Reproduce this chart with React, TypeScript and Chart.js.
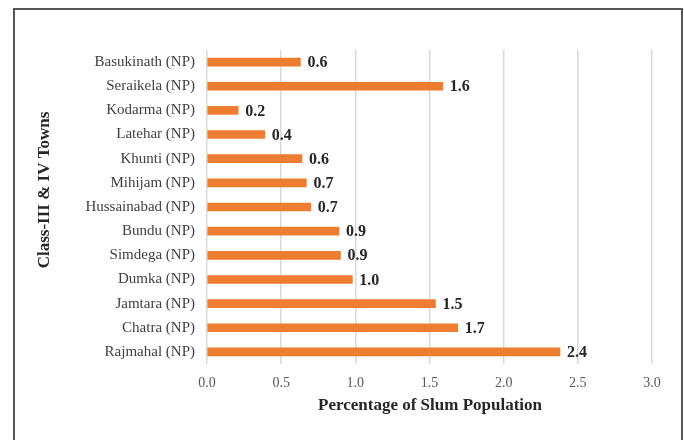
import React, { useEffect, useRef } from "react";
import { Chart, registerables } from "chart.js";

Chart.register(...registerables);

const categories = [
  "Basukinath (NP)",
  "Seraikela (NP)",
  "Kodarma (NP)",
  "Latehar (NP)",
  "Khunti (NP)",
  "Mihijam (NP)",
  "Hussainabad (NP)",
  "Bundu (NP)",
  "Simdega (NP)",
  "Dumka (NP)",
  "Jamtara (NP)",
  "Chatra (NP)",
  "Rajmahal (NP)",
];
const slumShare = [0.63, 1.59, 0.21, 0.39, 0.64, 0.67, 0.7, 0.89, 0.9, 0.98, 1.54, 1.69, 2.38];
const xTicks = [0, 0.5, 1, 1.5, 2, 2.5, 3];
const xTitle = "Percentage of Slum Population";
const yTitle = "Class-III & IV Towns";

const SERIF = "'Liberation Serif', 'Times New Roman', serif";

const labelPlugin = {
  id: "barLabels",
  afterDatasetsDraw(chart: any) {
    const ctx = chart.ctx;
    const meta = chart.getDatasetMeta(0);
    ctx.save();
    ctx.font = `bold 16px ${SERIF}`;
    ctx.fillStyle = "#262626";
    ctx.textAlign = "left";
    ctx.textBaseline = "middle";
    meta.data.forEach((bar: any, i: number) => {
      ctx.fillText(slumShare[i].toFixed(1), bar.x + 7, bar.y + 1);
    });
    ctx.restore();
  },
};

const titlePlugin = {
  id: "axisTitles",
  afterDraw(chart: any) {
    const ctx = chart.ctx;
    const area = chart.chartArea;
    ctx.save();
    ctx.fillStyle = "#262626";
    ctx.font = `bold 17px ${SERIF}`;
    ctx.textAlign = "center";
    ctx.textBaseline = "middle";
    ctx.fillText(xTitle, 430, 406);
    ctx.translate(45, 190);
    ctx.rotate(-Math.PI / 2);
    ctx.fillText(yTitle, 0, 0);
    ctx.restore();
  },
};

export default function App() {
  const ref = useRef<HTMLCanvasElement>(null);
  useEffect(() => {
    if (!ref.current) return;
    const chart = new Chart(ref.current, {
      type: "bar",
      data: {
        labels: categories,
        datasets: [
          {
            data: slumShare,
            backgroundColor: "#ED7D31",
            barThickness: 8,
          },
        ],
      },
      options: {
        indexAxis: "y",
        responsive: false,
        animation: false,
        layout: { padding: { top: 50, right: 32, left: 0, bottom: 0 } },
        plugins: { legend: { display: false }, tooltip: { enabled: false } },
        scales: {
          x: {
            min: 0,
            max: 3,
            afterBuildTicks(scale: any) {
              scale.ticks = xTicks.map((v) => ({ value: v }));
            },
            afterFit(scale: any) {
              scale.height = 76;
            },
            ticks: {
              callback: (v: any) => Number(v).toFixed(1),
              font: { family: SERIF, size: 14 },
              color: "#595959",
              padding: 11,
              maxRotation: 0,
            },
            grid: { color: "#d9d9d9", lineWidth: 1.5, drawTicks: false },
            border: { display: false },
          },
          y: {
            afterFit(scale: any) {
              scale.width = 207;
            },
            ticks: {
              font: { family: SERIF, size: 15 },
              color: "#404040",
              padding: 12,
            },
            grid: { display: false, drawTicks: false },
            border: { display: false },
          },
        },
      },
      plugins: [labelPlugin, titlePlugin],
    });
    return () => chart.destroy();
  }, []);

  return (
    <div>
      <div
        style={{
          position: "fixed",
          left: 13,
          top: 8,
          width: 670,
          height: 432,
          border: "2px solid #555",
          borderBottom: "none",
          boxSizing: "border-box",
          background: "#fff",
        }}
      />
      <canvas
        ref={ref}
        width={684}
        height={440}
        style={{ position: "fixed", left: 0, top: 0, width: 684, height: 440 }}
      />
    </div>
  );
}
